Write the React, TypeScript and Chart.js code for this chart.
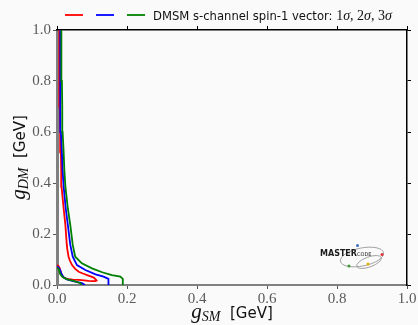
import React, { useEffect, useRef } from 'react';
import { Chart, registerables } from 'chart.js';

Chart.register(...registerables);

// ---- data ----
const tickValues = [0, 0.2, 0.4, 0.6, 0.8, 1.0];
const tickLabels = ['0.0', '0.2', '0.4', '0.6', '0.8', '1.0'];

const seriesNames = ['1σ', '2σ', '3σ'];
const seriesColors = ['#ff0000', '#0000ff', '#008000'];
const legendText = 'DMSM s-channel spin-1 vector: ';

// 1 sigma contour (red)
const red1X = [0.000, 0.004, 0.007, 0.010, 0.012, 0.015, 0.019, 0.029, 0.045, 0.062, 0.078, 0.090, 0.102, 0.109, 0.113, 0.111, 0.105, 0.096, 0.086, 0.074, 0.062, 0.052, 0.043, 0.037, 0.033, 0.030, 0.028, 0.024, 0.019, 0.013, 0.012, 0.011, 0.009, 0.008, 0.007, 0.0065, 0.006];
const red1Y = [0.078, 0.075, 0.068, 0.056, 0.046, 0.036, 0.029, 0.024, 0.021, 0.020, 0.018, 0.016, 0.015, 0.015, 0.017, 0.021, 0.029, 0.034, 0.039, 0.045, 0.052, 0.063, 0.078, 0.095, 0.111, 0.135, 0.157, 0.235, 0.300, 0.386, 0.450, 0.520, 0.600, 0.700, 0.800, 0.900, 1.000];

// 2 sigma contour (blue), clipped at g_DM = 0 (null = gap)
const blue2X = [0.000, 0.004, 0.007, 0.010, 0.012, 0.015, 0.019, 0.025, 0.033, 0.052, 0.071, 0.080, null, 0.146, 0.148, 0.146, 0.133, 0.110, 0.081, 0.057, 0.045, 0.038, 0.031, 0.025, 0.019, 0.016, 0.014, 0.011, 0.010, 0.0095, 0.009, 0.009];
const blue2Y = [0.072, 0.069, 0.064, 0.055, 0.046, 0.038, 0.031, 0.024, 0.020, 0.013, 0.007, 0.000, null, 0.000, 0.011, 0.024, 0.033, 0.042, 0.059, 0.078, 0.111, 0.157, 0.235, 0.300, 0.386, 0.450, 0.520, 0.600, 0.700, 0.800, 0.900, 1.000];

// 3 sigma contour (green)
const green3X = [0.000, 0.005, 0.009, 0.016, 0.029, 0.048, 0.067, 0.070, null, 0.186, 0.188, 0.188, 0.181, 0.157, 0.129, 0.100, 0.071, 0.052, 0.045, 0.038, 0.031, 0.024, 0.021, 0.019, 0.016, 0.015, 0.014, 0.013, 0.012];
const green3Y = [0.068, 0.063, 0.043, 0.031, 0.022, 0.016, 0.007, 0.000, null, 0.000, 0.011, 0.024, 0.033, 0.039, 0.050, 0.065, 0.085, 0.111, 0.157, 0.235, 0.300, 0.386, 0.450, 0.520, 0.600, 0.700, 0.800, 0.900, 1.000];

const toPoints = (xs: (number | null)[], ys: (number | null)[]) =>
  xs.map((x, i) => ({ x: x as any, y: ys[i] as any }));

const SERIF = '"Liberation Serif", "DejaVu Serif", serif';
const SANS = '"DejaVu Sans", sans-serif';

type Piece = { t: string; f: string; dy?: number; c?: string };

function drawRich(ctx: CanvasRenderingContext2D, pieces: Piece[], x: number, y: number, align: 'left' | 'center') {
  let total = 0;
  const widths = pieces.map((p) => {
    ctx.font = p.f;
    const w = ctx.measureText(p.t).width;
    total += w;
    return w;
  });
  let cx = align === 'center' ? x - total / 2 : x;
  ctx.textAlign = 'left';
  pieces.forEach((p, i) => {
    ctx.font = p.f;
    ctx.fillStyle = p.c || '#111';
    ctx.fillText(p.t, cx, y + (p.dy || 0));
    cx += widths[i];
  });
  return cx;
}

const decorPlugin = {
  id: 'decor',
  afterDraw(chart: any) {
    const ctx: CanvasRenderingContext2D = chart.ctx;
    const area = chart.chartArea;
    ctx.save();
    ctx.textBaseline = 'alphabetic';

    // legend: three coloured handles, one label
    const handleStarts = [65, 96, 127];
    seriesColors.forEach((c, i) => {
      ctx.strokeStyle = c;
      ctx.lineWidth = 1.8;
      ctx.beginPath();
      ctx.moveTo(handleStarts[i], 15);
      ctx.lineTo(handleStarts[i] + 18, 15);
      ctx.stroke();
    });
    let lx = drawRich(ctx, [{ t: legendText, f: `11.6px ${SANS}` }], 153, 19.5, 'left');
    seriesNames.forEach((n, i) => {
      const pieces: Piece[] = [
        { t: n.slice(0, 1), f: `14px ${SERIF}` },
        { t: n.slice(1), f: `italic 14px ${SERIF}` },
      ];
      if (i < seriesNames.length - 1) pieces.push({ t: ', ', f: `14px ${SERIF}` });
      lx = drawRich(ctx, pieces, lx, 19.5, 'left');
    });

    // x-axis title
    const cxm = (area.left + area.right) / 2;
    drawRich(
      ctx,
      [
        { t: 'g', f: `italic 21px ${SERIF}` },
        { t: 'SM', f: `italic 14px ${SERIF}`, dy: 3 },
        { t: '  [GeV]', f: `15px ${SANS}` },
      ],
      cxm,
      318,
      'center'
    );

    // y-axis title
    ctx.save();
    const cym = (area.top + area.bottom) / 2;
    ctx.translate(25, cym);
    ctx.rotate(-Math.PI / 2);
    drawRich(
      ctx,
      [
        { t: 'g', f: `italic 21px ${SERIF}` },
        { t: 'DM', f: `italic 14px ${SERIF}`, dy: 3 },
        { t: '  [GeV]', f: `15px ${SANS}` },
      ],
      0,
      0,
      'center'
    );
    ctx.restore();

    // MasterCode logo
    ctx.strokeStyle = '#8a8a8a';
    ctx.lineWidth = 0.8;
    ctx.beginPath();
    ctx.ellipse(362, 257, 22, 9, -0.2, 0, Math.PI * 2);
    ctx.stroke();
    ctx.beginPath();
    ctx.ellipse(369, 262, 13, 5, -0.35, 0, Math.PI * 2);
    ctx.stroke();
    const dots: [number, number, string][] = [
      [357.5, 245.5, '#3a6fc4'],
      [382, 254.5, '#e03030'],
      [368, 264, '#e8b000'],
      [349, 266, '#3a9a30'],
    ];
    dots.forEach(([x, y, c]) => {
      ctx.fillStyle = c;
      ctx.beginPath();
      ctx.arc(x, y, 1.5, 0, Math.PI * 2);
      ctx.fill();
    });
    ctx.fillStyle = '#1a1a1a';
    ctx.font = `bold 8px ${SANS}`;
    ctx.fillText('MASTER', 320, 255.5);
    ctx.font = `5px ${SANS}`;
    ctx.fillText('CODE', 357, 256);

    ctx.restore();
  },
};

const labelFor = (v: number) => {
  const i = tickValues.findIndex((t) => Math.abs(t - v) < 1e-6);
  return i >= 0 ? tickLabels[i] : '';
};

export default function App() {
  const ref = useRef<HTMLCanvasElement | null>(null);

  useEffect(() => {
    if (!ref.current) return;
    const setTicks = (s: any) => {
      s.ticks = tickValues.map((v) => ({ value: v }));
    };
    const ds = (label: string, xs: any[], ys: any[], color: string) => ({
      label,
      data: toPoints(xs, ys),
      showLine: true,
      borderColor: color,
      backgroundColor: color,
      borderWidth: 1.8,
      pointRadius: 0,
      pointHoverRadius: 0,
      fill: false,
      tension: 0,
      spanGaps: false,
      clip: 0,
    });
    const chart = new Chart(ref.current, {
      type: 'scatter',
      data: {
        datasets: [
          ds(seriesNames[2], green3X, green3Y, seriesColors[2]),
          ds(seriesNames[1], blue2X, blue2Y, seriesColors[1]),
          ds(seriesNames[0], red1X, red1Y, seriesColors[0]),
        ] as any,
      },
      options: {
        animation: false,
        responsive: false,
        devicePixelRatio: 1,
        layout: { padding: { top: 30, right: 11, left: 0, bottom: 0 } },
        plugins: { legend: { display: false }, tooltip: { enabled: false } },
        events: [],
        scales: {
          x: {
            type: 'linear',
            position: 'bottom',
            min: 0,
            max: 1,
            afterBuildTicks: setTicks,
            afterFit: (s: any) => {
              s.height = 40;
            },
            ticks: {
              callback: (v: any) => labelFor(Number(v)),
              font: { family: 'Liberation Serif', size: 15 },
              color: '#5a5a5a',
              padding: 1,
              maxRotation: 0,
              autoSkip: false,
            },
            grid: { drawOnChartArea: false, tickLength: 4, color: '#555', lineWidth: 1 },
            border: { color: '#808080', width: 2 },
          },
          y: {
            type: 'linear',
            position: 'left',
            min: 0,
            max: 1,
            afterBuildTicks: setTicks,
            afterFit: (s: any) => {
              s.width = 57;
            },
            ticks: {
              callback: (v: any) => labelFor(Number(v)),
              font: { family: 'Liberation Serif', size: 15 },
              color: '#5a5a5a',
              padding: 2,
              autoSkip: false,
            },
            grid: { drawOnChartArea: false, tickLength: 4, color: '#555', lineWidth: 1 },
            border: { color: '#808080', width: 3 },
          },
          x2: {
            type: 'linear',
            position: 'top',
            min: 0,
            max: 1,
            afterBuildTicks: setTicks,
            afterFit: (s: any) => {
              s.height = 0;
            },
            ticks: { display: false },
            grid: { drawOnChartArea: false, tickLength: 4, color: '#000', lineWidth: 1 },
            border: { color: '#000', width: 1.5 },
          },
          y2: {
            type: 'linear',
            position: 'right',
            min: 0,
            max: 1,
            afterBuildTicks: setTicks,
            afterFit: (s: any) => {
              s.width = 0;
            },
            ticks: { display: false },
            grid: { drawOnChartArea: false, tickLength: 4, color: '#000', lineWidth: 1 },
            border: { color: '#000', width: 1.5 },
          },
        },
      } as any,
      plugins: [decorPlugin],
    });
    return () => chart.destroy();
  }, []);

  return (
    <div
      style={{
        position: 'fixed',
        left: 0,
        top: 0,
        width: 418,
        height: 325,
        background: '#fafafa',
      }}
    >
      <canvas ref={ref} width={418} height={325} style={{ display: 'block' }} />
    </div>
  );
}
